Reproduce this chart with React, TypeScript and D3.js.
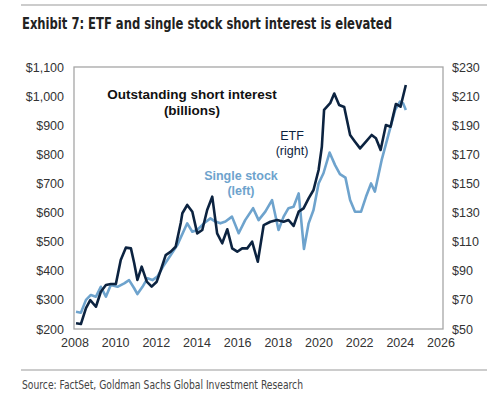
import React from "react";
import * as d3 from "d3";

// ETF short interest ($bn, right axis)
const etfDates = [
  2008.05, 2008.29, 2008.54, 2008.75, 2009.03, 2009.27, 2009.52, 2009.76, 2010.01, 2010.25,
  2010.5, 2010.75, 2010.91, 2011.07, 2011.28, 2011.53, 2011.77, 2012.02, 2012.22, 2012.46,
  2012.71, 2012.95, 2013.2, 2013.28, 2013.52, 2013.77, 2014.01, 2014.26, 2014.5, 2014.75,
  2014.99, 2015.24, 2015.49, 2015.73, 2015.98, 2016.22, 2016.47, 2016.71, 2016.99, 2017.28,
  2017.61, 2017.94, 2018.26, 2018.5, 2018.75, 2019.0, 2019.24, 2019.49, 2019.73, 2019.98,
  2020.14, 2020.25, 2020.55, 2020.75, 2020.99, 2021.24, 2021.53, 2021.77, 2022.02, 2022.31,
  2022.59, 2022.8, 2023.03, 2023.29, 2023.52, 2023.78, 2024.01, 2024.27,
];
const etfValues = [
  53.9, 53.4, 64.4, 69.9, 65.3, 75.6, 80.2, 80.9, 80.9, 97.4,
  105.9, 105.4, 95.3, 83.7, 92.8, 82.5, 79.1, 82.5, 90.5, 100.8,
  103.1, 106.5, 122.8, 129.5, 135.2, 130.6, 115.7, 118.0, 131.8, 140.9,
  115.7, 108.9, 118.5, 105.4, 103.1, 105.4, 105.4, 110.0, 96.2, 121.4,
  123.7, 124.9, 123.7, 124.9, 120.8, 130.6, 132.9, 139.8, 145.5, 159.2,
  175.2, 200.5, 205.1, 211.8, 203.9, 202.5, 183.3, 178.7, 174.1, 178.7,
  183.3, 181.0, 173.0, 190.1, 189.0, 204.6, 202.7, 217.6,
];

// Single stock short interest ($bn, left axis)
const stockDates = [
  2008.05, 2008.29, 2008.54, 2008.78, 2009.03, 2009.27, 2009.52, 2009.76, 2010.09, 2010.42,
  2010.66, 2010.91, 2011.07, 2011.32, 2011.56, 2011.81, 2012.05, 2012.38, 2012.71, 2013.03,
  2013.52, 2013.77, 2014.01, 2014.34, 2014.66, 2014.9, 2015.15, 2015.4, 2015.72, 2016.05,
  2016.37, 2016.76, 2017.03, 2017.36, 2017.69, 2018.01, 2018.26, 2018.5, 2018.75, 2019.0,
  2019.26, 2019.49, 2019.73, 2019.98, 2020.22, 2020.52, 2020.79, 2021.03, 2021.3, 2021.53,
  2021.77, 2022.07, 2022.31, 2022.56, 2022.75, 2023.08, 2023.41, 2023.74, 2023.98, 2024.14,
  2024.27,
];
const stockValues = [
  259, 256, 300, 317, 311, 345, 311, 351, 345, 357,
  368, 340, 320, 345, 374, 368, 380, 420, 454, 488,
  563, 534, 540, 563, 580, 569, 563, 569, 586, 529,
  574, 615, 574, 603, 643, 540, 586, 615, 620, 666,
  475, 563, 609, 700, 735, 806, 763, 732, 720, 643,
  603, 603, 654, 700, 672, 780, 866, 952, 981, 975,
  952,
];

const yearTicks = [2008, 2010, 2012, 2014, 2016, 2018, 2020, 2022, 2024, 2026];
const leftTicks = [200, 300, 400, 500, 600, 700, 800, 900, 1000, 1100];
const rightTicks = [50, 70, 90, 110, 130, 150, 170, 190, 210, 230];

const W = 500;
const H = 398;
const plot = { left: 74, right: 443, top: 67, bottom: 329 };
const navy = "#0c2340";
const lightBlue = "#6ea3cd";
const tickFont = "'Liberation Sans', Arial, sans-serif";

export default function App() {
  const x = d3.scaleLinear().domain([2008, 2026]).range([plot.left + 1, plot.right - 2]);
  const yL = d3.scaleLinear().domain([200, 1100]).range([plot.bottom, plot.top]);
  const yR = d3.scaleLinear().domain([50, 230]).range([plot.bottom, plot.top]);

  const etfLine = d3
    .line<number>()
    .x((d, i) => x(etfDates[i]))
    .y((d) => yR(d));
  const stockLine = d3
    .line<number>()
    .x((d, i) => x(stockDates[i]))
    .y((d) => yL(d));

  return (
    <svg
      width={W}
      height={H}
      style={{ position: "absolute", left: 0, top: 0, background: "#fff" }}
    >
      <rect x={0} y={0} width={W} height={H} fill="#fff" />
      <line x1={21} x2={487} y1={5} y2={5} stroke="#9a9a9a" strokeWidth={1.2} />
      <text
        x={22}
        y={29}
        fontFamily="'DejaVu Sans Condensed', 'DejaVu Sans', sans-serif"
        fontStretch="condensed"
        fontWeight="bold"
        fontSize={16}
        fill="#222"
        textLength={370}
        lengthAdjust="spacingAndGlyphs"
      >
        Exhibit 7: ETF and single stock short interest is elevated
      </text>

      <rect
        x={plot.left}
        y={plot.top}
        width={plot.right - plot.left}
        height={plot.bottom - plot.top}
        fill="none"
        stroke="#a6a6a6"
        strokeWidth={1.3}
      />

      {leftTicks.map((t) => (
        <text
          key={"l" + t}
          x={64}
          y={yL(t) + 4.5}
          textAnchor="end"
          fontFamily={tickFont}
          fontSize={12.5}
          fill="#333"
        >
          {d3.format("$,")(t)}
        </text>
      ))}
      {rightTicks.map((t) => (
        <text
          key={"r" + t}
          x={452}
          y={yR(t) + 4.5}
          textAnchor="start"
          fontFamily={tickFont}
          fontSize={12.5}
          fill="#333"
        >
          {"$" + t}
        </text>
      ))}
      {yearTicks.map((t) => (
        <text
          key={"x" + t}
          x={x(t)}
          y={347}
          textAnchor="middle"
          fontFamily={tickFont}
          fontSize={12.5}
          fill="#333"
        >
          {t}
        </text>
      ))}

      <path
        d={stockLine(stockValues) ?? ""}
        fill="none"
        stroke={lightBlue}
        strokeWidth={2.6}
        strokeLinejoin="round"
      />
      <path
        d={etfLine(etfValues) ?? ""}
        fill="none"
        stroke={navy}
        strokeWidth={2.6}
        strokeLinejoin="round"
      />

      <g fontFamily={tickFont} fontWeight="bold" fontSize={13.5} fill="#111" textAnchor="middle">
        <text x={192} y={99}>Outstanding short interest</text>
        <text x={192} y={115}>(billions)</text>
      </g>
      <g fontFamily={tickFont} fontSize={12.5} fill={navy} textAnchor="middle">
        <text x={292} y={140}>ETF</text>
        <text x={292} y={155}>(right)</text>
      </g>
      <g fontFamily={tickFont} fontWeight="bold" fontSize={12.5} fill={lightBlue} textAnchor="middle">
        <text x={241} y={180}>Single stock</text>
        <text x={241} y={195}>(left)</text>
      </g>

      <line x1={21} x2={487} y1={370} y2={370} stroke="#9a9a9a" strokeWidth={1.2} />
      <text
        x={22}
        y={389}
        fontFamily="'DejaVu Sans Condensed', 'DejaVu Sans', sans-serif"
        fontStretch="condensed"
        fontSize={12}
        fill="#444"
        textLength={281}
        lengthAdjust="spacingAndGlyphs"
      >
        Source: FactSet, Goldman Sachs Global Investment Research
      </text>
    </svg>
  );
}
